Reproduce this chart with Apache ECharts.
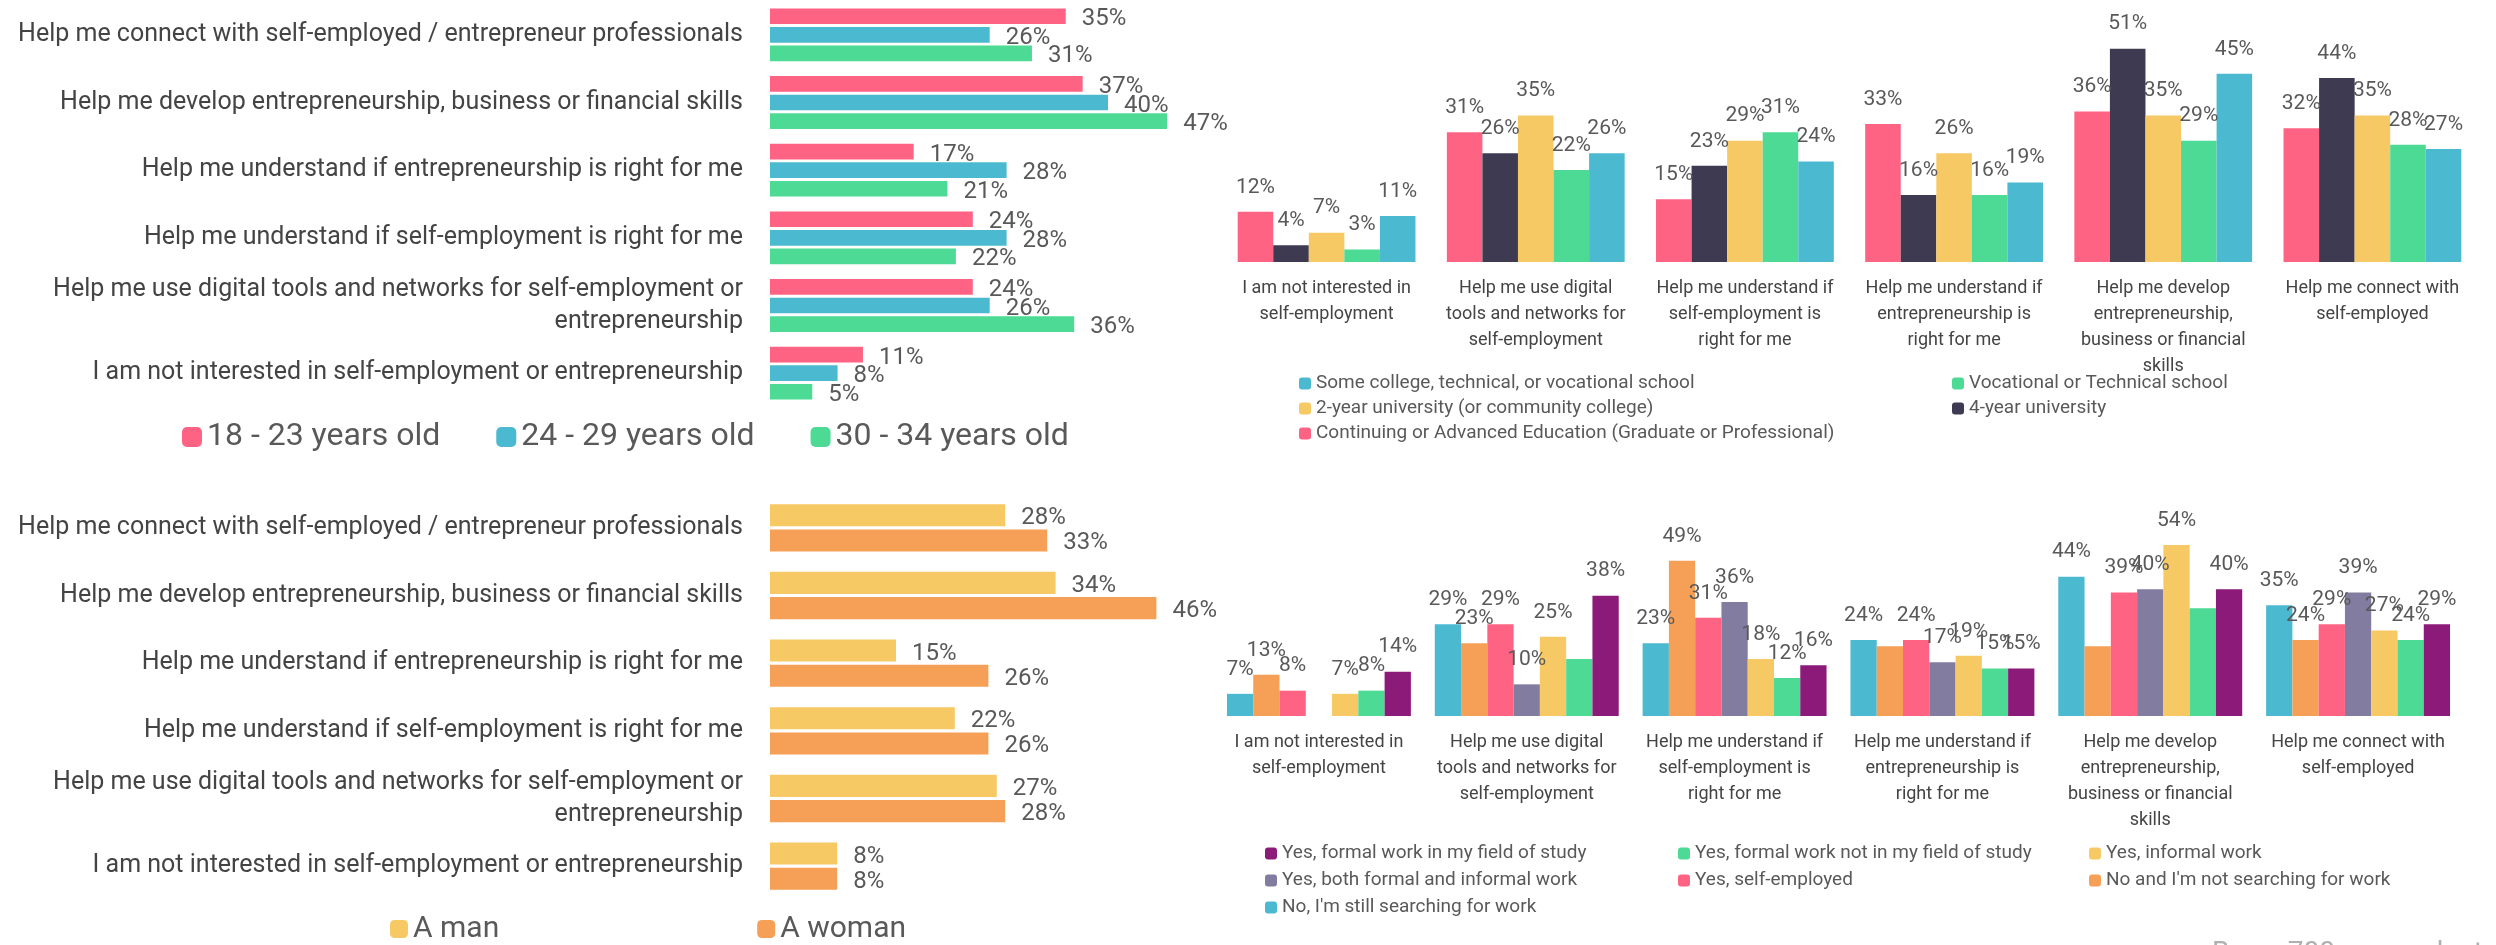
<!DOCTYPE html>
<html>
<head>
<meta charset="utf-8">
<script src="https://cdn.jsdelivr.net/npm/echarts@6/dist/echarts.min.js"></script>
<style>
  html, body { margin: 0; padding: 0; background: #fff; }
  #main { width: 2496px; height: 945px; }
</style>
</head>
<body>
<div id="main"></div>
<script>
// categories for the horizontal (left) charts
var hCategories = [
  'Help me connect with self-employed / entrepreneur professionals',
  'Help me develop entrepreneurship, business or financial skills',
  'Help me understand if entrepreneurship is right for me',
  'Help me understand if self-employment is right for me',
  'Help me use digital tools and networks for self-employment or\nentrepreneurship',
  'I am not interested in self-employment or entrepreneurship'
];
var ageNames = ['18 - 23 years old', '24 - 29 years old', '30 - 34 years old'];
var age18to23 = [35, 37, 17, 24, 24, 11];
var age24to29 = [26, 40, 28, 28, 26, 8];
var age30to34 = [31, 47, 21, 22, 36, 5];

var genderNames = ['A man', 'A woman'];
var genderMan = [28, 34, 15, 22, 27, 8];
var genderWoman = [33, 46, 26, 26, 28, 8];

// categories for the vertical (right) charts
var vCategories = [
  'I am not interested in\nself-employment',
  'Help me use digital\ntools and networks for\nself-employment',
  'Help me understand if\nself-employment is\nright for me',
  'Help me understand if\nentrepreneurship is\nright for me',
  'Help me develop\nentrepreneurship,\nbusiness or financial\nskills',
  'Help me connect with\nself-employed'
];
var eduNames = [
  'Continuing or Advanced Education (Graduate or Professional)',
  '4-year university',
  '2-year university (or community college)',
  'Vocational or Technical school',
  'Some college, technical, or vocational school'
];
var eduContinuing = [12, 31, 15, 33, 36, 32];
var eduFourYear = [4, 26, 23, 16, 51, 44];
var eduTwoYear = [7, 35, 29, 26, 35, 35];
var eduVocational = [3, 22, 31, 16, 29, 28];
var eduSomeCollege = [11, 26, 24, 19, 45, 27];

var workNames = [
  "No, I'm still searching for work",
  "No and I'm not searching for work",
  'Yes, self-employed',
  'Yes, both formal and informal work',
  'Yes, informal work',
  'Yes, formal work not in my field of study',
  'Yes, formal work in my field of study'
];
var workSearching = [7, 29, 23, 24, 44, 35];
var workNotSearching = [13, 23, 49, 22, 22, 24];
var workSelfEmployed = [8, 29, 31, 24, 39, 29];
var workBoth = [null, 10, 36, 17, 40, 39];
var workInformal = [7, 25, 18, 19, 54, 27];
var workFormalOther = [8, 18, 12, 15, 34, 24];
var workFormalField = [14, 38, 16, 15, 40, 29];

// labels that the original leaves out (overlapping)
var hiddenLabels = {
  "No and I'm not searching for work": [3, 4],
  'Yes, formal work not in my field of study': [1, 4]
};

var col = {
  pink: '#FF6384', cyan: '#4BB9D0', green: '#4CDA94', yellow: '#F7C965',
  dark: '#3D3A52', orange: '#F5A056', gray: '#827DA0', purple: '#8C1A78'
};
var FONT = 'Roboto';
var TXT = '#595959';

function hBar(name, data, color, idx) {
  return {
    name: name, type: 'bar', data: data,
    xAxisIndex: idx, yAxisIndex: idx,
    itemStyle: { color: color },
    label: {
      show: true, position: 'right', distance: 16, offset: [0, 3],
      formatter: '{c}%', color: TXT, fontSize: 24, fontFamily: FONT
    }
  };
}

function vBar(name, data, color, idx) {
  var hide = hiddenLabels[name] || [];
  var items = data.map(function (v, i) {
    if (hide.indexOf(i) >= 0) return { value: v, label: { show: false } };
    return v;
  });
  return {
    name: name, type: 'bar', data: items,
    xAxisIndex: idx, yAxisIndex: idx, barGap: '0%',
    itemStyle: { color: color },
    label: {
      show: true, position: 'top', distance: 14,
      formatter: '{c}%', color: TXT, fontSize: 21, fontFamily: FONT
    }
  };
}

function catAxisH(idx) {
  return {
    type: 'category', gridIndex: idx, data: hCategories, inverse: true,
    axisLine: { show: false }, axisTick: { show: false },
    axisLabel: { margin: 27, fontSize: 25, lineHeight: 32, color: '#444', fontFamily: FONT }
  };
}

function catAxisV(idx) {
  return {
    type: 'category', gridIndex: idx, data: vCategories,
    axisLine: { show: false }, axisTick: { show: false },
    axisLabel: { interval: 0, margin: 13, fontSize: 18, lineHeight: 26, color: '#444', fontFamily: FONT }
  };
}

function valAxis(idx) {
  return { type: 'value', gridIndex: idx, min: 0, max: 60, show: false, splitLine: { show: false } };
}

function colLegend(names, left, top, gap) {
  return {
    data: names, orient: 'vertical', left: left, top: top, padding: 0,
    itemWidth: 12, itemHeight: 12, itemGap: gap, selectedMode: false,
    textStyle: { fontSize: 19, lineHeight: 18, color: TXT, fontFamily: FONT }
  };
}

var option = {
  animation: false,
  backgroundColor: '#fff',
  grid: [
    { left: 770, top: 1, width: 507, height: 406 },
    { left: 1222, right: 19, top: 11, height: 251 },
    { left: 770, top: 494, width: 504, height: 406 },
    { left: 1215, right: 34, top: 526, height: 190 }
  ],
  xAxis: [valAxis(0), catAxisV(1), valAxis(2), catAxisV(3)],
  yAxis: [catAxisH(0), valAxis(1), catAxisH(2), valAxis(3)],
  legend: [
    {
      data: ageNames, left: 182, top: 421, padding: 0, itemWidth: 20, itemHeight: 20, itemGap: 56,
      selectedMode: false, textStyle: { fontSize: 32, color: TXT, fontFamily: FONT }
    },
    {
      data: genderNames, left: 390, top: 914, padding: 0, itemWidth: 18, itemHeight: 18, itemGap: 258,
      selectedMode: false, textStyle: { fontSize: 30, color: TXT, fontFamily: FONT }
    },
    colLegend([eduNames[4], eduNames[2], eduNames[0]], 1299, 374, 6),
    colLegend([eduNames[3], eduNames[1]], 1952, 374, 6),
    colLegend([workNames[6], workNames[3], workNames[0]], 1265, 844, 8),
    colLegend([workNames[5], workNames[2]], 1678, 844, 8),
    colLegend([workNames[4], workNames[1]], 2089, 844, 8)
  ],
  graphic: [{
    type: 'text', left: 2212, top: 940,
    style: { text: 'Base: 700 respondents', fontSize: 28, fill: '#b0b0b0', fontFamily: FONT }
  }],
  series: [
    // age (top left)
    Object.assign(hBar(ageNames[0], age18to23, col.pink, 0), { barCategoryGap: '22%', barGap: '19%' }),
    hBar(ageNames[1], age24to29, col.cyan, 0),
    hBar(ageNames[2], age30to34, col.green, 0),
    // education (top right)
    Object.assign(vBar(eduNames[0], eduContinuing, col.pink, 1), { barCategoryGap: '15%' }),
    vBar(eduNames[1], eduFourYear, col.dark, 1),
    vBar(eduNames[2], eduTwoYear, col.yellow, 1),
    vBar(eduNames[3], eduVocational, col.green, 1),
    vBar(eduNames[4], eduSomeCollege, col.cyan, 1),
    // gender (bottom left)
    Object.assign(hBar(genderNames[0], genderMan, col.yellow, 2), { barCategoryGap: '30%', barGap: '14%' }),
    hBar(genderNames[1], genderWoman, col.orange, 2),
    // work status (bottom right)
    Object.assign(vBar(workNames[0], workSearching, col.cyan, 3), { barCategoryGap: '11.5%' }),
    vBar(workNames[1], workNotSearching, col.orange, 3),
    vBar(workNames[2], workSelfEmployed, col.pink, 3),
    vBar(workNames[3], workBoth, col.gray, 3),
    vBar(workNames[4], workInformal, col.yellow, 3),
    vBar(workNames[5], workFormalOther, col.green, 3),
    vBar(workNames[6], workFormalField, col.purple, 3)
  ]
};

var chart = echarts.init(document.getElementById('main'));
chart.setOption(option);
</script>
</body>
</html>
